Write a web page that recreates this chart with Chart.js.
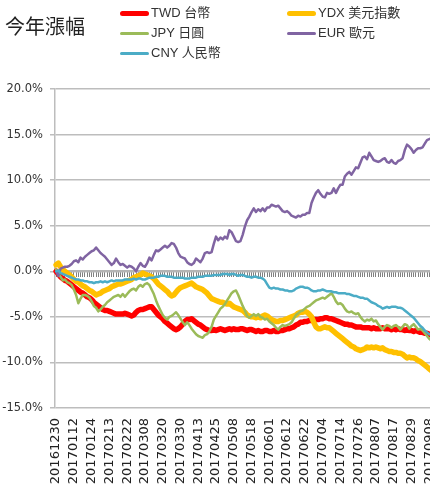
<!DOCTYPE html>
<html>
<head>
<meta charset="utf-8">
<script src="https://cdn.jsdelivr.net/npm/chart.js@4.4.1/dist/chart.umd.min.js"></script>
<style>
html, body { margin: 0; padding: 0; overflow: hidden; background: #fff; width: 430px; height: 496px; }
#wrap { position: absolute; left: 0; top: 0; width: 445px; height: 496px; }
#title { position: absolute; left: 5px; top: 14px; font: 20px "Noto Sans CJK TC"; line-height: 24px; color: #222; }
.lg { position: absolute; font: 13px "Liberation Sans", "Noto Sans CJK TC"; color: #333; white-space: nowrap; height: 16px; line-height: 16px; }
.lg .sw { display: inline-block; vertical-align: middle; width: 29px; margin-right: 2px; border-radius: 3px; }
</style>
</head>
<body>
<div id="wrap"><canvas id="chart-area" width="445" height="496"></canvas></div>
<div id="title">今年漲幅</div>
<div id="legend"></div>
<script>
// x tick labels, one every 8 trading days
const tickLabels = ['20161230','20170112','20170124','20170213','20170222','20170308','20170320','20170330',
  '20170413','20170425','20170508','20170518','20170601','20170612','20170622','20170704','20170714',
  '20170726','20170807','20170817','20170829','20170908'];

// % change since 20161230
const twd = [0,-0.3,-0.6,-0.8,-1.0,-1.1,-1.3,-1.5,-1.7,-1.9,
  -2.1,-2.3,-2.4,-2.6,-2.8,-2.9,-3.1,-3.4,-3.6,-3.8,
  -4.0,-4.2,-4.3,-4.3,-4.4,-4.5,-4.6,-4.7,-4.7,-4.7,
  -4.7,-4.6,-4.7,-4.8,-4.9,-4.8,-4.5,-4.3,-4.2,-4.2,
  -4.1,-4.0,-3.9,-3.9,-4.2,-4.5,-4.8,-5.0,-5.2,-5.5,
  -5.7,-5.9,-6.1,-6.3,-6.4,-6.3,-6.1,-5.8,-5.5,-5.3,
  -5.3,-5.2,-5.4,-5.6,-5.8,-5.9,-6.1,-6.3,-6.4,-6.5,
  -6.5,-6.4,-6.5,-6.4,-6.3,-6.4,-6.5,-6.4,-6.3,-6.4,
  -6.3,-6.4,-6.4,-6.3,-6.3,-6.4,-6.5,-6.4,-6.4,-6.5,
  -6.6,-6.5,-6.6,-6.6,-6.5,-6.5,-6.6,-6.6,-6.5,-6.6,
  -6.6,-6.5,-6.5,-6.4,-6.3,-6.3,-6.2,-6.1,-5.9,-5.8,
  -5.6,-5.6,-5.5,-5.5,-5.4,-5.4,-5.3,-5.3,-5.3,-5.2,
  -5.2,-5.1,-5.1,-5.2,-5.2,-5.3,-5.4,-5.5,-5.6,-5.7,
  -5.8,-5.8,-5.9,-5.9,-6.0,-6.1,-6.1,-6.1,-6.2,-6.2,
  -6.2,-6.2,-6.3,-6.2,-6.3,-6.3,-6.3,-6.2,-6.3,-6.3,
  -6.3,-6.4,-6.3,-6.4,-6.3,-6.4,-6.4,-6.5,-6.4,-6.5,
  -6.5,-6.6,-6.5,-6.6,-6.7,-6.7,-6.8,-6.8,-6.9,-7.0,
  -7.0,-7.1];

const ydx = [0.7,0.9,0.5,0.2,0.0,-0.2,-0.4,-0.6,-0.9,-1.1,
  -1.2,-1.4,-1.6,-1.7,-1.9,-2.1,-2.2,-2.4,-2.6,-2.5,
  -2.4,-2.2,-2.1,-2.0,-1.9,-1.7,-1.6,-1.5,-1.4,-1.4,
  -1.3,-1.2,-1.1,-1.0,-0.9,-0.7,-0.6,-0.5,-0.4,-0.2,
  -0.3,-0.4,-0.5,-0.6,-0.8,-1.1,-1.4,-1.6,-1.8,-2.0,
  -2.2,-2.5,-2.7,-2.6,-2.3,-2.0,-1.8,-1.7,-1.6,-1.5,
  -1.4,-1.3,-1.5,-1.7,-1.8,-1.9,-2.0,-2.2,-2.4,-2.7,
  -3.0,-3.1,-3.2,-3.3,-3.4,-3.4,-3.5,-3.6,-3.5,-3.7,
  -3.9,-4.0,-4.1,-4.2,-4.3,-4.5,-4.8,-4.9,-5.0,-5.0,
  -5.1,-5.0,-5.1,-4.9,-4.8,-4.9,-5.1,-5.3,-5.4,-5.5,
  -5.5,-5.4,-5.4,-5.3,-5.2,-5.1,-5.0,-4.9,-4.8,-4.6,
  -4.5,-4.5,-4.4,-4.5,-4.7,-5.0,-5.6,-6.1,-6.3,-6.3,
  -6.2,-6.1,-6.2,-6.2,-6.4,-6.6,-6.8,-7.0,-7.2,-7.4,
  -7.6,-7.8,-8.0,-8.2,-8.3,-8.5,-8.6,-8.7,-8.6,-8.5,
  -8.3,-8.4,-8.3,-8.4,-8.3,-8.4,-8.5,-8.4,-8.6,-8.7,
  -8.8,-8.8,-8.9,-8.9,-9.0,-9.0,-9.1,-9.3,-9.5,-9.4,
  -9.5,-9.5,-9.6,-9.8,-9.9,-10.1,-10.3,-10.5,-10.7,-10.9,
  -11.0,-11.1];

const jpy = [0.2,-0.3,-0.6,-1.0,-0.9,-1.2,-1.3,-1.5,-2.0,-2.6,
  -3.5,-3.0,-2.6,-2.6,-2.7,-2.9,-3.3,-3.8,-4.0,-4.4,
  -4.2,-3.9,-3.7,-3.4,-3.2,-3.0,-2.8,-2.7,-2.6,-2.8,
  -2.5,-2.8,-2.5,-2.2,-2.0,-1.9,-2.1,-1.7,-1.5,-1.7,
  -1.4,-1.3,-1.5,-2.0,-2.5,-3.2,-3.8,-4.3,-4.8,-5.1,
  -5.3,-5.0,-4.9,-4.7,-4.5,-4.8,-5.2,-5.6,-5.9,-5.6,
  -5.9,-6.3,-6.6,-6.9,-7.1,-7.2,-7.3,-7.0,-6.9,-6.6,
  -6.1,-5.3,-4.9,-4.5,-4.1,-3.9,-3.6,-3.2,-2.8,-2.4,
  -2.2,-2.1,-2.6,-3.2,-3.8,-4.3,-4.9,-5.1,-4.9,-4.7,
  -4.9,-4.7,-5.0,-5.1,-5.3,-5.2,-5.5,-5.7,-5.9,-6.2,
  -6.4,-6.1,-5.9,-6.0,-5.9,-5.8,-5.6,-5.2,-4.8,-4.6,
  -4.4,-4.3,-4.1,-3.9,-3.8,-3.6,-3.4,-3.2,-3.1,-3.0,
  -2.9,-3.0,-2.8,-2.6,-2.4,-2.8,-3.3,-3.6,-3.5,-3.7,
  -4.1,-4.4,-4.5,-4.4,-4.6,-4.7,-4.6,-5.0,-5.3,-5.5,
  -5.3,-5.4,-5.2,-5.5,-5.4,-5.8,-6.1,-6.4,-6.1,-5.9,
  -6.0,-6.2,-6.0,-5.9,-6.1,-6.4,-6.1,-5.8,-5.9,-6.3,
  -6.0,-5.8,-6.1,-6.4,-6.3,-6.5,-6.8,-7.1,-7.4,-7.6,
  -7.5,-7.7];

const eur = [0,-0.5,0.3,0.4,0.5,0.5,0.6,0.8,1.1,1.2,
  1.0,1.5,1.3,1.6,1.8,2.0,2.2,2.3,2.6,2.3,
  2.0,1.8,1.6,1.3,1.0,0.7,0.9,1.4,1.0,0.7,
  0.8,0.6,0.4,0.6,0.5,0.3,0.0,0.5,0.9,0.6,
  0.5,0.9,1.5,1.2,1.8,2.3,2.2,2.4,2.6,2.8,
  2.6,2.8,3.1,3.0,2.6,2.0,1.6,1.5,1.4,1.0,
  0.8,0.7,0.9,1.4,1.2,1.0,1.4,2.0,2.1,2.0,
  2.1,3.0,3.8,3.4,3.7,3.5,3.8,3.6,4.5,4.3,
  3.8,3.3,3.2,3.3,4.0,4.9,5.6,6.0,6.5,6.9,
  6.5,6.8,6.6,6.9,6.6,7.0,7.0,7.3,7.2,7.1,
  7.2,6.9,6.6,6.5,6.6,6.4,6.1,6.0,5.9,6.1,
  6.0,6.2,6.2,6.4,6.4,7.5,8.1,8.6,8.9,8.5,
  8.2,8.1,8.6,8.5,8.6,9.1,8.6,9.1,9.5,9.5,
  10.4,10.7,10.9,10.6,11.0,11.4,11.3,11.9,12.5,12.6,
  12.3,13.0,12.6,12.2,12.1,12.0,12.1,12.3,12.4,12.0,
  11.9,12.2,11.9,11.8,12.1,12.2,12.4,13.3,13.9,13.7,
  13.4,13.0,13.3,13.5,13.5,13.6,14.0,14.4,14.5,14.6,
  14.5,14.7];

const cny = [0,0.1,-0.2,-0.3,-0.4,-0.5,-0.6,-0.7,-0.8,-0.9,
  -0.9,-1.0,-1.0,-1.1,-1.1,-1.2,-1.2,-1.3,-1.2,-1.2,
  -1.1,-1.2,-1.1,-1.2,-1.1,-1.0,-1.1,-1.0,-1.0,-1.0,
  -1.0,-0.9,-0.9,-0.9,-0.9,-0.8,-0.9,-0.8,-0.8,-0.9,
  -0.9,-0.8,-0.7,-0.7,-0.7,-0.6,-0.6,-0.5,-0.5,-0.5,
  -0.6,-0.6,-0.6,-0.7,-0.7,-0.7,-0.7,-0.7,-0.8,-0.8,
  -0.8,-0.7,-0.7,-0.7,-0.6,-0.6,-0.6,-0.5,-0.5,-0.5,
  -0.5,-0.4,-0.4,-0.4,-0.4,-0.3,-0.3,-0.3,-0.4,-0.3,
  -0.3,-0.4,-0.5,-0.4,-0.4,-0.5,-0.6,-0.6,-0.7,-0.6,
  -0.6,-0.7,-0.7,-0.8,-1.0,-1.4,-1.8,-1.9,-1.8,-1.9,
  -1.9,-2.0,-2.0,-2.1,-2.1,-2.2,-2.2,-2.1,-1.9,-1.8,
  -1.7,-1.7,-1.8,-1.8,-1.9,-2.1,-2.2,-2.2,-2.1,-2.1,
  -2.0,-2.1,-2.2,-2.2,-2.2,-2.3,-2.3,-2.4,-2.4,-2.4,
  -2.4,-2.5,-2.5,-2.6,-2.7,-2.7,-2.8,-2.9,-2.9,-3.0,
  -3.0,-3.2,-3.4,-3.5,-3.6,-3.8,-3.9,-4.1,-4.0,-3.9,
  -4.0,-3.9,-3.9,-3.9,-4.0,-4.0,-4.1,-4.3,-4.5,-4.7,
  -4.9,-5.1,-5.4,-5.7,-6.0,-6.2,-6.5,-6.7,-6.9,-7.0,
  -7.1,-7.2];

const days = twd.map((v, i) => i);

function series(label, data, color, width, order) {
    return {
        label: label,
        data: data,
        borderColor: color,
        backgroundColor: color,
        borderWidth: width,
        borderJoinStyle: 'round',
        borderCapStyle: 'round',
        pointRadius: 0,
        tension: 0,
        fill: false,
        order: order
    };
}

const datasets = [
    series('TWD 台幣', twd, '#ff0000', 5.5, 5),
    series('YDX 美元指數', ydx, '#ffc000', 5.5, 4),
    series('JPY 日圓', jpy, '#9bbb59', 2.5, 3),
    series('EUR 歐元', eur, '#8064a2', 2.5, 2),
    series('CNY 人民幣', cny, '#4bacc6', 2.5, 1)
];

const ctx = document.getElementById('chart-area').getContext('2d');
const chart = new Chart(ctx, {
    type: 'line',
    data: { labels: days, datasets: datasets },
    options: {
        responsive: false,
        animation: false,
        layout: { padding: { top: 89, right: 8, left: 0, bottom: 0 } },
        plugins: {
            legend: { display: false },
            tooltip: { enabled: false }
        },
        scales: {
            x: {
                type: 'category',
                offset: true,
                grid: { display: false, drawTicks: false },
                border: { display: false },
                ticks: {
                    autoSkip: false,
                    maxRotation: 90,
                    minRotation: 90,
                    padding: 10,
                    color: '#222',
                    font: { family: 'DejaVu Sans', size: 13 },
                    callback: (v, i) => i % 8 === 0 ? tickLabels[i / 8] : ''
                },
                // rotated labels would otherwise add side padding
                afterFit: s => { s.height = 88; s.paddingLeft = 0; s.paddingRight = 0; }
            },
            // axis line with a tick for every day, sitting on 0%
            x0: {
                type: 'category',
                offset: true,
                position: { y: 0 },
                ticks: { autoSkip: false, maxRotation: 0, padding: 0, font: { size: 1 }, callback: () => '' },
                grid: { drawOnChartArea: false, tickLength: 5, color: '#808080', lineWidth: 1 },
                border: { color: '#b4b4b4', width: 2 },
                afterFit: s => { s.paddingLeft = 0; s.paddingRight = 0; }
            },
            y: {
                min: -15,
                max: 20,
                ticks: {
                    stepSize: 5,
                    padding: 7,
                    color: '#333',
                    font: { family: 'DejaVu Sans', size: 11.5 },
                    callback: v => v.toFixed(1) + '%'
                },
                grid: { color: '#bdbdbd', lineWidth: 1.5, tickLength: 5 },
                border: { color: '#bdbdbd', width: 1.5 },
                afterFit: s => { s.width = 55; }
            }
        }
    }
});

// html legend in two columns, built from the datasets
const legend = document.getElementById('legend');
chart.data.datasets.forEach((ds, i) => {
    const col = i % 2, row = Math.floor(i / 2);
    const item = document.createElement('div');
    item.className = 'lg';
    item.style.left = (120 + col * 167) + 'px';
    item.style.top = (5 + row * 20) + 'px';
    const sw = document.createElement('span');
    sw.className = 'sw';
    sw.style.height = ds.borderWidth + 'px';
    sw.style.background = ds.borderColor;
    item.appendChild(sw);
    item.appendChild(document.createTextNode(ds.label));
    legend.appendChild(item);
});
</script>
</body>
</html>
